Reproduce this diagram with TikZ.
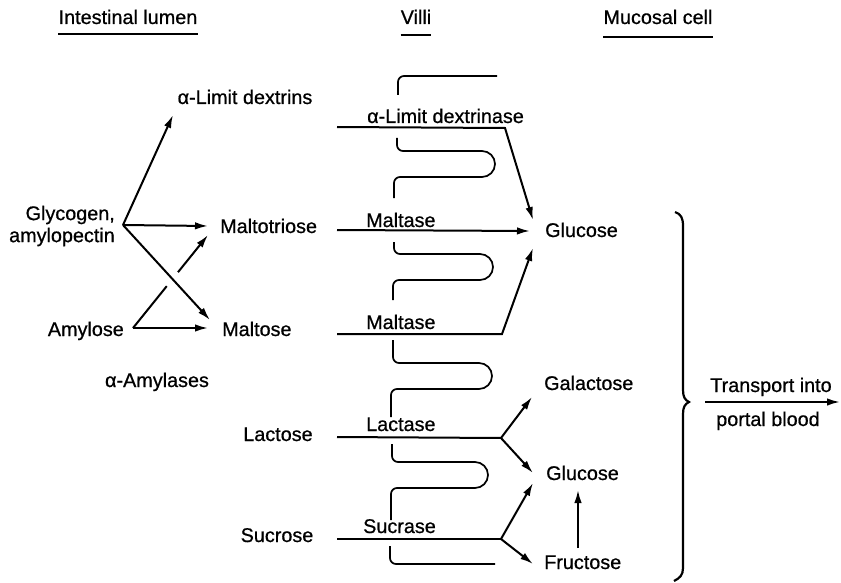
\documentclass[tikz,border=0pt]{standalone}
\usepackage{fontspec}
\setmainfont{Liberation Sans}[FakeBold=0.7]
\usetikzlibrary{arrows.meta,calc}
\newcommand\villusbump[7]{%
  \draw[villus] (#1,#2) -- (#1,#3-6) arc[start angle=180,end angle=90,radius=6]
    -- (#4,#3) arc[start angle=-90,end angle=90,radius=13]
    -- (#5+6,#3+26) arc[start angle=-90,end angle=-180,radius=6]
    -- (#5,#6);}
\begin{document}
\begin{tikzpicture}[x=1pt,y=-1pt,
  lbl/.style={inner sep=0pt, font=\fontsize{19.8}{22}\selectfont, text height=14pt, text depth=0pt},
  lblm/.style={inner sep=0pt, font=\fontsize{19.8}{22}\selectfont, align=right},
  arr/.style={line width=2pt, -{Latex[length=13pt,width=7.5pt]}},
  ln/.style={line width=2pt},
  ul/.style={line width=2pt},
  villus/.style={line width=1.7pt}]
\useasboundingbox (0,0) rectangle (841,583);

% headers
\node[lbl] (hdrL) at (128,17) {Intestinal lumen};
\node[lbl] (hdrV) at (416,17) {Villi};
\node[lbl] (hdrM) at (658,17) {Mucosal cell};
\draw[ul] ([yshift=-10pt]hdrL.base west) -- ([yshift=-10pt]hdrL.base east);
\draw[ul] ([yshift=-11pt]hdrV.base west) -- ([yshift=-11pt]hdrV.base east);
\draw[ul] ([yshift=-13pt]hdrM.base west) -- ([yshift=-13pt]hdrM.base east);

% lumen labels
\node[lbl] (limdex) at (245,97) {α-Limit dextrins};
\node[lblm, anchor=east] (glyc) at (115,226) {Glycogen,\\amylopectin};
\node[lbl, anchor=west] (mtri) at (220,226) {Maltotriose};
\node[lbl, anchor=east] (amyl) at (124,329) {Amylose};
\node[lbl, anchor=west] (malt) at (222,329) {Maltose};
\node[lbl] (amylases) at (157,380) {α-Amylases};
\node[lbl] (lact) at (278,434) {Lactose};
\node[lbl] (sucr) at (277,535) {Sucrose};

% enzyme labels
\node[lbl, anchor=west] (edex) at (367,116) {α-Limit dextrinase};
\node[lbl, anchor=west] (emal1) at (366,220) {Maltase};
\node[lbl, anchor=west] (emal2) at (366,322) {Maltase};
\node[lbl, anchor=west] (elac) at (366,424) {Lactase};
\node[lbl, anchor=west] (esuc) at (363,526) {Sucrase};

% mucosal labels
\node[lbl, anchor=west] (glc1) at (545,230) {Glucose};
\node[lbl, anchor=west] (gal) at (544,383) {Galactose};
\node[lbl, anchor=west] (glc2) at (546,473) {Glucose};
\node[lbl, anchor=west] (fru) at (544,562) {Fructose};
\node[lbl] (trA) at (771,385) {Transport into};
\node[lbl] (trB) at (768,419) {portal blood};

% coordinates
\coordinate (G) at (123,225);
\coordinate (tLD) at (173,115);
\coordinate (tMT1) at (208,226);
\coordinate (tMA1) at (210,320);
\coordinate (A) at (133,328);
\coordinate (tMA2) at (208,328);
\coordinate (tMT2) at (208,235);
\coordinate (s1) at (337,127); \coordinate (c1) at (505,128); \coordinate (t1) at (533,220);
\coordinate (s2) at (337,230); \coordinate (t2) at (530,231);
\coordinate (s3) at (337,334); \coordinate (c3) at (502,334); \coordinate (t3) at (533,248);
\coordinate (s4) at (337,437); \coordinate (c4) at (501,438);
\coordinate (t4a) at (532,397); \coordinate (t4b) at (533,473);
\coordinate (s5) at (337,539); \coordinate (c5) at (501,539);
\coordinate (t5a) at (533,483); \coordinate (t5b) at (533,564);
\coordinate (fuA) at (578,548); \coordinate (fuB) at (578,490);
\coordinate (trS) at (705,402); \coordinate (trE) at (840,402);

% lumen arrows
\draw[arr] (G) -- (tLD);
\draw[arr] (G) -- (tMT1);
\draw[arr] (G) -- (tMA1);
\draw[arr] (A) -- (tMA2);
\draw[ln] (A) -- ($(A)!0.45!(tMT2)$);
\draw[arr] ($(A)!0.6!(tMT2)$) -- (tMT2);

% villi
\draw[villus] (398,95) -- (398,82) arc[start angle=180,end angle=270,radius=6] -- (497,76);
\villusbump{397}{138}{151}{482}{394}{198}{}
\villusbump{394}{242}{254}{480}{393}{300}{}
\villusbump{393}{340}{363}{479}{391}{417}{}
\villusbump{392}{444}{462}{475}{391}{520}{}
\draw[villus] (390,546) -- (390,558) arc[start angle=180,end angle=90,radius=6] -- (495,564);

% enzyme lines
\draw[arr] (s1) -- (c1) -- (t1);
\draw[arr] (s2) -- (t2);
\draw[arr] (s3) -- (c3) -- (t3);
\draw[ln] (s4) -- (c4);
\draw[arr] (c4) -- (t4a);
\draw[arr] (c4) -- (t4b);
\draw[ln] (s5) -- (c5);
\draw[arr] (c5) -- (t5a);
\draw[arr] (c5) -- (t5b);
\draw[arr] (fuA) -- (fuB);

% brace
\draw[line width=2.2pt] (675,212) .. controls (681,214) and (683,218) .. (683,226)
  -- (683,390) .. controls (683,397) and (685,400) .. (689,402)
  .. controls (685,404) and (683,407) .. (683,414)
  -- (683,568) .. controls (683,575) and (680,578) .. (674,581);

% transport
\draw[arr] (trS) -- (trE);
\end{tikzpicture}
\end{document}
